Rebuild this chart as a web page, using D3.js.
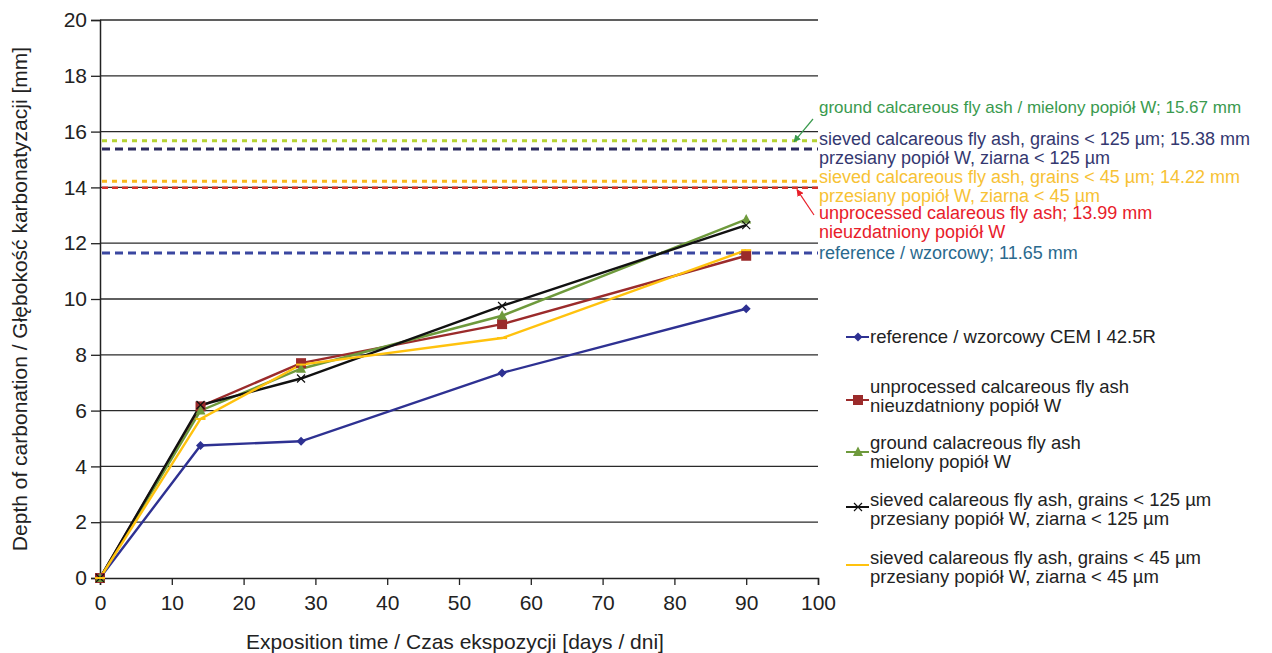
<!DOCTYPE html>
<html>
<head>
<meta charset="utf-8">
<script src="https://cdn.jsdelivr.net/npm/d3@7.9.0/dist/d3.min.js"></script>
<style>
  body { margin: 0; background: #fff; }
  svg { font-family: "Liberation Sans", Arial, sans-serif; }
</style>
</head>
<body>
<svg id="chart"></svg>
<script>
// data
const days = [0, 14, 28, 56, 90];
const reference = [0, 4.75, 4.9, 7.35, 9.65];
const unprocessed = [0, 6.15, 7.7, 9.1, 11.55];
const ground = [0, 6.0, 7.5, 9.4, 12.85];
const sieved125 = [0, 6.2, 7.15, 9.75, 12.65];
const sieved45 = [0, 5.7, 7.65, 8.6, 11.75];

const xTicks = [0, 10, 20, 30, 40, 50, 60, 70, 80, 90, 100];
const yTicks = [0, 2, 4, 6, 8, 10, 12, 14, 16, 18, 20];

// final depths (horizontal reference lines)
const levelValues = [15.67, 15.38, 14.22, 13.99, 11.65];

const series = [
  { name: ['reference / wzorcowy CEM I 42.5R'], values: reference, color: '#2e3192', marker: 'diamond' },
  { name: ['unprocessed calcareous fly ash', 'nieuzdatniony popiół W'], values: unprocessed, color: '#9b2b2b', marker: 'square' },
  { name: ['ground calacreous fly ash', 'mielony popiół W'], values: ground, color: '#6e9a3c', marker: 'triangle' },
  { name: ['sieved calareous fly ash, grains < 125 µm', 'przesiany popiół W, ziarna < 125 µm'], values: sieved125, color: '#111111', marker: 'cross' },
  { name: ['sieved calareous fly ash, grains < 45 µm', 'przesiany popiół W, ziarna < 45 µm'], values: sieved45, color: '#ffc20e', marker: 'dash' },
];

const levels = [
  { value: levelValues[0], color: '#b5d334', dash: '5,5', width: 3 },
  { value: levelValues[1], color: '#2b2a5e', dash: '8,5', width: 3 },
  { value: levelValues[2], color: '#f9b81e', dash: '5,5', width: 3 },
  { value: levelValues[3], color: '#d8322b', dash: '6,4', width: 2.5 },
  { value: levelValues[4], color: '#3a47a0', dash: '8,5', width: 3 },
];

const notes = [
  { lines: ['ground calcareous fly ash / mielony popiół W; ' + levelValues[0] + ' mm'], color: '#3a9a4e', y: 113, size: 17 },
  { lines: ['sieved calcareous fly ash, grains < 125 µm; ' + levelValues[1] + ' mm', 'przesiany popiół W, ziarna < 125 µm'], color: '#343870', y: 145, size: 18 },
  { lines: ['sieved calcareous fly ash, grains < 45 µm; ' + levelValues[2] + ' mm', 'przesiany popiół W, ziarna < 45 µm'], color: '#f7c235', y: 183, size: 18 },
  { lines: ['unprocessed calareous fly ash; ' + levelValues[3] + ' mm', 'nieuzdatniony popiół W'], color: '#e8202a', y: 219, size: 18 },
  { lines: ['reference / wzorcowy; ' + levelValues[4] + ' mm'], color: '#2a6a8e', y: 259, size: 18 },
];

const width = 1272;
const height = 653;
const margin = { top: 20, right: 454, bottom: 75, left: 100 };

const svg = d3.select('#chart').attr('width', width).attr('height', height);

const x = d3.scaleLinear().domain([0, 100]).range([margin.left, width - margin.right]);
const y = d3.scaleLinear().domain([0, 20]).range([height - margin.bottom, margin.top]);

// grid
svg.append('g')
  .selectAll('line')
  .data(yTicks.filter((d) => d > 0))
  .join('line')
  .attr('x1', x(0))
  .attr('x2', x(100))
  .attr('y1', (d) => y(d))
  .attr('y2', (d) => y(d))
  .attr('stroke', '#2a2a2a')
  .attr('stroke-width', 1.3);

// axes
const yAxis = svg.append('g')
  .attr('transform', `translate(${x(0)},0)`)
  .call(d3.axisLeft(y).tickValues(yTicks).tickSize(9).tickPadding(4));
const xAxis = svg.append('g')
  .attr('transform', `translate(0,${y(0)})`)
  .call(d3.axisBottom(x).tickValues(xTicks).tickSize(7).tickPadding(10));

[xAxis, yAxis].forEach((g) => {
  g.select('.domain').attr('stroke', '#222').attr('stroke-width', 1.5);
  g.selectAll('.tick line').attr('stroke', '#222').attr('stroke-width', 1.3);
  g.selectAll('.tick text').attr('fill', '#222').style('font-size', '21px').style('font-family', '"Liberation Sans", Arial, sans-serif');
});

svg.append('text')
  .attr('x', 455)
  .attr('y', 649)
  .attr('text-anchor', 'middle')
  .attr('fill', '#222')
  .style('font-size', '21px')
  .text('Exposition time / Czas ekspozycji [days / dni]');

svg.append('text')
  .attr('transform', `translate(27,${y(10)}) rotate(-90)`)
  .attr('text-anchor', 'middle')
  .attr('fill', '#222')
  .style('font-size', '21px')
  .text('Depth of carbonation / Głębokość karbonatyzacji [mm]');

// horizontal level lines
svg.append('g')
  .selectAll('line')
  .data(levels)
  .join('line')
  .attr('x1', x(0) + 2)
  .attr('x2', x(100))
  .attr('y1', (d) => y(d.value))
  .attr('y2', (d) => y(d.value))
  .attr('stroke', (d) => d.color)
  .attr('stroke-width', (d) => d.width)
  .attr('stroke-dasharray', (d) => d.dash);

// series lines
const line = d3.line()
  .x((d, i) => x(days[i]))
  .y((d) => y(d));

function drawMarker(g, type, color, cx, cy, s) {
  if (type === 'diamond') {
    g.append('path').attr('d', `M${cx},${cy - s}L${cx + s},${cy}L${cx},${cy + s}L${cx - s},${cy}Z`).attr('fill', color);
  } else if (type === 'square') {
    g.append('rect').attr('x', cx - s).attr('y', cy - s).attr('width', 2 * s).attr('height', 2 * s).attr('fill', color);
  } else if (type === 'triangle') {
    g.append('path').attr('d', `M${cx},${cy - s * 1.1}L${cx + s},${cy + s * 0.8}L${cx - s},${cy + s * 0.8}Z`).attr('fill', color);
  } else if (type === 'cross') {
    g.append('path').attr('d', `M${cx - s},${cy - s}L${cx + s},${cy + s}M${cx - s},${cy + s}L${cx + s},${cy - s}`).attr('stroke', color).attr('stroke-width', 1.2);
  } else if (type === 'dash') {
    g.append('path').attr('d', `M${cx - s},${cy}L${cx + s},${cy}`).attr('stroke', color).attr('stroke-width', 2);
  }
}

const markerSize = { diamond: 4.5, square: 5, triangle: 5, cross: 4, dash: 5 };

series.forEach((s) => {
  svg.append('path')
    .datum(s.values)
    .attr('d', line)
    .attr('fill', 'none')
    .attr('stroke', s.color)
    .attr('stroke-width', 2.4);
});
series.forEach((s) => {
  const g = svg.append('g');
  s.values.forEach((v, i) => drawMarker(g, s.marker, s.color, x(days[i]), y(v), markerSize[s.marker]));
});

// annotations
const noteG = svg.append('g');
notes.forEach((n) => {
  n.lines.forEach((t, j) => {
    noteG.append('text')
      .attr('x', x(100) + 1)
      .attr('y', n.y + j * 18.5)
      .attr('fill', n.color)
      .style('font-size', n.size + 'px')
      .text(t);
  });
});

// arrows
const defs = svg.append('defs');
[['arrowG', '#3a9a4e'], ['arrowR', '#e8202a']].forEach(([id, c]) => {
  defs.append('marker')
    .attr('id', id)
    .attr('viewBox', '0 0 10 10')
    .attr('refX', 9).attr('refY', 5)
    .attr('markerWidth', 6).attr('markerHeight', 6)
    .attr('orient', 'auto')
    .append('path').attr('d', 'M0,0L10,5L0,10Z').attr('fill', c);
});
svg.append('line')
  .attr('x1', x(100) - 5).attr('y1', 119)
  .attr('x2', x(100) - 24).attr('y2', y(levelValues[0]) + 1)
  .attr('stroke', '#3a9a4e').attr('stroke-width', 1.2)
  .attr('marker-end', 'url(#arrowG)');
svg.append('line')
  .attr('x1', x(100) - 4).attr('y1', 215)
  .attr('x2', x(100) - 21).attr('y2', y(levelValues[3]) + 2)
  .attr('stroke', '#e8202a').attr('stroke-width', 1.2)
  .attr('marker-end', 'url(#arrowR)');

// legend
const legendText = [343, 393, 449, 506, 564]; // baseline of first line
const legendMark = [337, 400, 452, 507, 565];
const legend = svg.append('g');
series.forEach((s, i) => {
  const my = legendMark[i];
  legend.append('line')
    .attr('x1', 846).attr('x2', 869)
    .attr('y1', my).attr('y2', my)
    .attr('stroke', s.color).attr('stroke-width', 2);
  drawMarker(legend, s.marker, s.color, 858, my, markerSize[s.marker]);
  s.name.forEach((t, j) => {
    legend.append('text')
      .attr('x', 870)
      .attr('y', legendText[i] + j * 19)
      .attr('fill', '#222')
      .style('font-size', '18.5px')
      .text(t);
  });
});
</script>
</body>
</html>
